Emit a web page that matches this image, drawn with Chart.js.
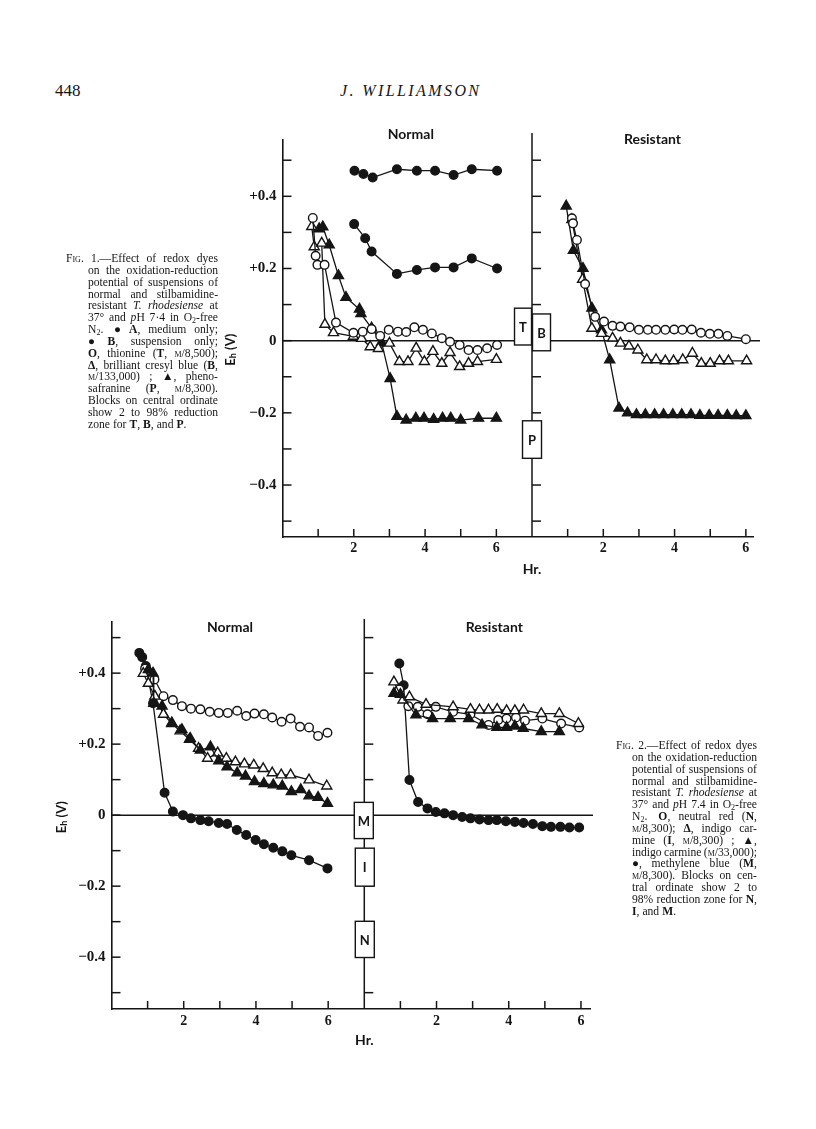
<!DOCTYPE html>
<html>
<head>
<meta charset="utf-8">
<script src="https://cdn.jsdelivr.net/npm/chart.js@4.4.0/dist/chart.umd.min.js"></script>
<style>
  body { margin: 0; background: #fff; }
  #page { position: relative; width: 816px; height: 1129px; overflow: hidden;
          font-family: "Liberation Serif", "DejaVu Serif", serif; color: #151515; }
  canvas { position: absolute; }
  .hdr { position: absolute; font-size: 17px; }
  .cap { position: absolute; font-size: 11.6px; line-height: 11.85px; }
  .cap .ln { display: flex; justify-content: space-between; white-space: nowrap; height: 11.85px; }
  .cap .ln.last { justify-content: flex-start; gap: 3px; }
  .sc { font-variant: small-caps; }
  .cap sub { font-size: 8px; vertical-align: baseline; position: relative; top: 2px; }
</style>
</head>
<body>
<div id="page">
  <div class="hdr" style="left:55px;top:81px;">448</div>
  <div class="hdr" style="left:340px;top:82px;font-style:italic;font-size:16px;letter-spacing:2.4px;">J. WILLIAMSON</div>

  <canvas id="fig1" width="580" height="490" style="left:200px;top:120px;"></canvas>
  <canvas id="fig2" width="590" height="460" style="left:30px;top:605px;"></canvas>

  <div class="cap" id="cap1" style="left:66px;top:253px;width:152px;"></div>
  <div class="cap" id="cap2" style="left:616px;top:740px;width:141px;"></div>
</div>

<script>
// ---- Fig. 1: [hours, Eh volts] ----
// normal trypanosomes
const f1NormA = [[2.02,0.471],[2.27,0.462],[2.53,0.452],[3.21,0.475],[3.77,0.471],[4.28,0.471],[4.8,0.459],[5.31,0.475],[6.02,0.471]];
const f1NormB = [[2.01,0.323],[2.32,0.284],[2.5,0.247],[3.21,0.185],[3.77,0.196],[4.28,0.203],[4.8,0.203],[5.31,0.228],[6.02,0.2]];
const f1NormT = [[0.85,0.34],[0.93,0.235],[0.98,0.21],[1.18,0.21],[1.5,0.05],[1.99,0.022],[2.25,0.025],[2.5,0.032],[2.74,0.013],[2.98,0.03],[3.24,0.025],[3.47,0.024],[3.7,0.037],[3.94,0.03],[4.19,0.02],[4.47,0.007],[4.7,-0.003],[4.97,-0.012],[5.22,-0.026],[5.47,-0.026],[5.74,-0.021],[6.02,-0.012]];
const f1NormCB = [[0.82,0.316],[0.89,0.26],[1.1,0.27],[1.19,0.045],[1.43,0.022],[1.99,0.012],[2.22,0.006],[2.46,-0.017],[2.69,-0.022],[3.0,-0.007],[3.28,-0.058],[3.52,-0.058],[3.75,-0.021],[3.98,-0.058],[4.22,-0.03],[4.47,-0.063],[4.7,-0.033],[4.97,-0.072],[5.22,-0.063],[5.47,-0.058],[6.0,-0.052]];
const f1NormP = [[1.03,0.31],[1.13,0.315],[1.31,0.265],[1.57,0.18],[1.78,0.12],[2.16,0.087],[2.2,0.075],[2.5,0.035],[2.78,-0.005],[3.02,-0.105],[3.21,-0.21],[3.47,-0.22],[3.74,-0.215],[3.97,-0.215],[4.24,-0.218],[4.49,-0.215],[4.72,-0.215],[5.0,-0.22],[5.5,-0.215],[6.0,-0.215]];
// stilbamidine-resistant
const f1ResT = [[1.12,0.339],[1.15,0.325],[1.26,0.279],[1.49,0.157],[1.77,0.066],[2.02,0.053],[2.26,0.041],[2.48,0.039],[2.74,0.037],[3.0,0.03],[3.25,0.03],[3.48,0.03],[3.74,0.03],[3.99,0.031],[4.22,0.03],[4.48,0.031],[4.74,0.022],[4.99,0.019],[5.23,0.019],[5.48,0.013],[6.0,0.004]];
const f1ResCB = [[1.12,0.335],[1.42,0.17],[1.68,0.034],[1.95,0.02],[2.26,0.007],[2.48,-0.007],[2.72,-0.015],[2.97,-0.026],[3.22,-0.053],[3.48,-0.053],[3.74,-0.056],[3.97,-0.056],[4.23,-0.053],[4.5,-0.035],[4.75,-0.063],[5.0,-0.063],[5.26,-0.056],[5.51,-0.056],[6.02,-0.056]];
const f1ResP = [[0.96,0.373],[1.16,0.25],[1.43,0.2],[1.68,0.09],[1.95,0.03],[2.18,-0.053],[2.44,-0.187],[2.68,-0.2],[2.93,-0.205],[3.18,-0.205],[3.44,-0.205],[3.69,-0.205],[3.95,-0.205],[4.2,-0.205],[4.46,-0.205],[4.71,-0.207],[4.97,-0.207],[5.22,-0.207],[5.48,-0.207],[5.73,-0.208],[6.0,-0.208]];
// 2-98 % reduction zones on the central ordinate
const f1BlockLabels = ['T', 'B', 'P'];
const f1BlockHigh = [0.09, 0.074, -0.222];
const f1BlockLow = [-0.012, -0.028, -0.326];

// ---- Fig. 2 ----
const f2NormN = [[0.93,0.413],[1.19,0.382],[1.44,0.335],[1.7,0.324],[1.95,0.307],[2.2,0.3],[2.46,0.298],[2.72,0.291],[2.97,0.288],[3.22,0.288],[3.48,0.294],[3.73,0.279],[3.96,0.286],[4.22,0.284],[4.45,0.275],[4.71,0.263],[4.96,0.272],[5.22,0.249],[5.47,0.247],[5.72,0.223],[5.98,0.232]];
const f2NormI = [[0.88,0.399],[1.02,0.371],[1.2,0.335],[1.44,0.284],[1.67,0.258],[1.9,0.237],[2.16,0.213],[2.41,0.188],[2.66,0.16],[2.94,0.175],[3.18,0.16],[3.43,0.15],[3.68,0.144],[3.94,0.141],[4.2,0.131],[4.45,0.119],[4.7,0.113],[4.96,0.113],[5.47,0.099],[5.96,0.082]];
const f2NormI33 = [[1.02,0.41],[1.15,0.4],[1.17,0.315],[1.4,0.307],[1.67,0.26],[1.95,0.241],[2.18,0.216],[2.46,0.183],[2.74,0.192],[2.97,0.153],[3.2,0.136],[3.48,0.119],[3.71,0.11],[3.96,0.094],[4.22,0.089],[4.48,0.085],[4.73,0.082],[4.98,0.066],[5.24,0.072],[5.47,0.054],[5.72,0.05],[5.98,0.033]];
const f2NormM = [[0.77,0.457],[0.85,0.445],[0.95,0.42],[1.15,0.315],[1.47,0.063],[1.7,0.01],[1.98,0.0],[2.2,-0.009],[2.46,-0.014],[2.69,-0.017],[2.97,-0.022],[3.2,-0.025],[3.47,-0.042],[3.73,-0.056],[3.99,-0.07],[4.22,-0.082],[4.48,-0.092],[4.73,-0.102],[4.98,-0.113],[5.47,-0.127],[5.98,-0.15]];
const f2ResN = [[0.97,0.354],[1.22,0.307],[1.48,0.305],[1.75,0.284],[1.98,0.305],[2.46,0.291],[2.94,0.284],[3.44,0.254],[3.71,0.268],[3.94,0.272],[4.2,0.275],[4.45,0.266],[4.93,0.272],[5.45,0.258],[5.95,0.247]];
const f2ResI = [[0.82,0.375],[1.07,0.324],[1.25,0.333],[1.71,0.312],[2.46,0.305],[2.94,0.298],[3.19,0.296],[3.44,0.296],[3.68,0.298],[3.94,0.294],[4.17,0.294],[4.41,0.296],[4.9,0.286],[5.4,0.286],[5.93,0.258]];
const f2ResI33 = [[0.82,0.343],[1.0,0.34],[1.43,0.282],[1.89,0.272],[2.38,0.272],[2.89,0.272],[3.26,0.254],[3.67,0.247],[3.94,0.247],[4.17,0.251],[4.4,0.244],[4.9,0.235],[5.4,0.235]];
const f2ResM = [[0.97,0.427],[1.09,0.366],[1.25,0.099],[1.49,0.037],[1.75,0.019],[1.98,0.009],[2.22,0.005],[2.46,0],[2.71,-0.005],[2.94,-0.009],[3.19,-0.012],[3.44,-0.014],[3.67,-0.014],[3.92,-0.017],[4.17,-0.019],[4.41,-0.022],[4.67,-0.025],[4.93,-0.031],[5.17,-0.033],[5.43,-0.033],[5.68,-0.035],[5.95,-0.035]];
const f2BlockLabels = ['M', 'I', 'N'];
const f2BlockHigh = [0.036, -0.093, -0.299];
const f2BlockLow = [-0.066, -0.2, -0.401];

// axes
const yTickVals = [-0.5, -0.4, -0.3, -0.2, -0.1, 0, 0.1, 0.2, 0.3, 0.4, 0.5];
const hourTicks = [1, 2, 3, 4, 5, 6];
const panelTitles = ['Normal', 'Resistant'];
const SPLIT = 7;   // resistant panel starts at 7 h on the shared axis

const INK = '#151515';
const xTickVals = hourTicks.concat(hourTicks.map(h => h + SPLIT));
const pts = (arr, off) => arr.map(([h, v]) => ({ x: h + off, y: v }));

function series(arr, off, style, fill) {
  const r = style === 'triangle' ? 5.8 : 4.3;
  return {
    data: pts(arr, off), showLine: true,
    borderColor: INK, borderWidth: 1.3,
    pointStyle: style, pointRadius: r, pointHoverRadius: r,
    pointBackgroundColor: fill ? INK : '#fff', pointBorderColor: INK, pointBorderWidth: 1.4
  };
}

function line(ctx, x1, y1, x2, y2) {
  ctx.beginPath(); ctx.moveTo(x1, y1); ctx.lineTo(x2, y2); ctx.stroke();
}

const decor = {
  id: 'decor',
  beforeDatasetsDraw(chart, args, o) {
    const { ctx, chartArea: a, scales: { x, y } } = chart;
    const y0 = y.getPixelForValue(0), xc = x.getPixelForValue(SPLIT);
    ctx.save();
    ctx.strokeStyle = INK; ctx.lineWidth = 1.5;
    line(ctx, a.left, y0, a.right + o.zeroExtra, y0);
    line(ctx, xc, a.bottom, xc, a.top - o.centralRise);
    yTickVals.forEach(v => {
      const py = y.getPixelForValue(v);
      line(ctx, a.left, py, a.left + 9, py);
      line(ctx, xc, py, xc + 9, py);
    });
    xTickVals.forEach(v => {
      const px = x.getPixelForValue(v);
      line(ctx, px, a.bottom, px, a.bottom - 8);
    });
    ctx.restore();
  },
  afterDatasetsDraw(chart, args, o) {
    const { ctx, chartArea: a, scales: { x, y } } = chart;
    const y0 = y.getPixelForValue(0), xc = x.getPixelForValue(SPLIT);
    ctx.save();
    ctx.strokeStyle = INK; ctx.fillStyle = INK; ctx.lineWidth = 1.4;
    ctx.textAlign = 'center'; ctx.textBaseline = 'middle';
    ctx.font = 'bold 13px Lato';
    o.blockLabels.forEach((lab, i) => {
      const top = y.getPixelForValue(o.blockHigh[i]);
      const bot = y.getPixelForValue(o.blockLow[i]);
      const left = xc + o.blockDx[i], w = o.blockW[i];
      ctx.fillStyle = '#fff';
      ctx.fillRect(left, top, w, bot - top);
      ctx.strokeRect(left, top, w, bot - top);
      ctx.fillStyle = INK;
      ctx.fillText(lab, left + w / 2, (top + bot) / 2 + 1);
    });
    ctx.font = 'bold 14px Lato';
    panelTitles.forEach((t, i) => {
      ctx.fillText(t, x.getPixelForValue(o.titleAt[i]), a.top + o.titleDy[i]);
    });
    ctx.fillText('Hr.', xc, a.bottom + o.hrDy);
    // E with subscript h, rotated
    ctx.translate(a.left - o.ehDx, y0 + o.ehDy);
    ctx.rotate(-Math.PI / 2);
    ctx.textAlign = 'left';
    ctx.font = 'bold 13px Lato';
    const wE = ctx.measureText('E').width, wV = ctx.measureText(' (V)').width;
    ctx.font = 'bold 9px Lato';
    const wh = ctx.measureText('h').width;
    const sx = -(wE + wh + wV) / 2;
    ctx.font = 'bold 13px Lato';
    ctx.fillText('E', sx, 0);
    ctx.font = 'bold 9px Lato';
    ctx.fillText('h', sx + wE, 3);
    ctx.font = 'bold 13px Lato';
    ctx.fillText(' (V)', sx + wE + wh, 0);
    ctx.restore();
  }
};

function makeFig(id, datasets, yMin, yMax, xMax, box, deco) {
  new Chart(document.getElementById(id), {
    type: 'scatter',
    data: { datasets },
    plugins: [decor],
    options: {
      responsive: false, animation: false, events: [],
      layout: { padding: { top: box.top, right: box.right, left: 0, bottom: 0 } },
      plugins: { legend: { display: false }, tooltip: { enabled: false }, decor: deco },
      scales: {
        x: {
          type: 'linear', min: 0, max: xMax,
          afterBuildTicks: s => { s.ticks = xTickVals.map(v => ({ value: v })); },
          afterFit: s => { s.height = box.xh; },
          grid: { display: false, drawTicks: false },
          border: { display: true, color: INK, width: 1.6 },
          ticks: {
            autoSkip: false, maxRotation: 0, padding: box.xpad, color: INK,
            font: { family: 'Liberation Serif', weight: 'bold', size: 14 },
            callback: v => { const h = v < SPLIT ? v : v - SPLIT; return h % 2 === 0 ? String(h) : ''; }
          }
        },
        y: {
          type: 'linear', min: yMin, max: yMax,
          afterBuildTicks: s => { s.ticks = yTickVals.map(v => ({ value: v })); },
          afterFit: s => { s.width = box.yw; },
          grid: { display: false, drawTicks: false },
          border: { display: true, color: INK, width: 1.6 },
          ticks: {
            padding: 6, color: INK,
            font: { family: 'Liberation Serif', weight: 'bold', size: 15 },
            callback: v => {
              const k = Math.round(v * 10);
              if (k % 2 !== 0) return '';
              if (k === 0) return '0';
              return (k > 0 ? '+' : '\u2212') + Math.abs(v).toFixed(1);
            }
          }
        }
      }
    }
  });
}

makeFig('fig1', [
  series(f1NormT, 0, 'circle', false),
  series(f1NormCB, 0, 'triangle', false),
  series(f1ResT, SPLIT, 'circle', false),
  series(f1ResCB, SPLIT, 'triangle', false),
  series(f1NormP, 0, 'triangle', true),
  series(f1ResP, SPLIT, 'triangle', true),
  series(f1NormA, 0, 'circle', true),
  series(f1NormB, 0, 'circle', true)
], -0.544, 0.556, 13.2,
  { top: 20, right: 27, yw: 82.5, xh: 73, xpad: 3 },
  { zeroExtra: 7, centralRise: 7,
    blockLabels: f1BlockLabels, blockHigh: f1BlockHigh, blockLow: f1BlockLow,
    blockDx: [-17.5, 0.5, -9.5], blockW: [17, 18, 19],
    titleAt: [3.6, 10.38], titleDy: [-6, -1], hrDy: 32, ehDx: 52, ehDy: 9 });

makeFig('fig2', [
  series(f2NormI33, 0, 'triangle', true),
  series(f2NormI, 0, 'triangle', false),
  series(f2NormN, 0, 'circle', false),
  series(f2NormM, 0, 'circle', true),
  series(f2ResI33, SPLIT, 'triangle', true),
  series(f2ResI, SPLIT, 'triangle', false),
  series(f2ResN, SPLIT, 'circle', false),
  series(f2ResM, SPLIT, 'circle', true)
], -0.546, 0.544, 13.25,
  { top: 17, right: 30, yw: 81.5, xh: 56, xpad: 4 },
  { zeroExtra: 3, centralRise: 3,
    blockLabels: f2BlockLabels, blockHigh: f2BlockHigh, blockLow: f2BlockLow,
    blockDx: [-10, -9, -9], blockW: [19, 19, 19],
    titleAt: [3.28, 10.6], titleDy: [5, 5], hrDy: 31, ehDx: 50, ehDy: 2 });

// captions, one justified line per row
const cap1 = [
  '<span class="sc">Fig.</span> 1.—Effect of redox dyes',
  'on the oxidation-reduction',
  'potential of suspensions of',
  'normal and stilbamidine-',
  'resistant <i>T.</i> <i>rhodesiense</i> at',
  '37° and <i>p</i>H 7·4 in O<sub>2</sub>-free',
  'N<sub>2</sub>. &nbsp;● <b>A</b>, medium only;',
  '● <b>B</b>, suspension only;',
  '<b>O</b>, thionine (<b>T</b>, <span class="sc">m</span>/8,500);',
  '<b>Δ</b>, brilliant cresyl blue (<b>B</b>,',
  '<span class="sc">m</span>/133,000) ; <b>▲</b>, pheno-',
  'safranine (<b>P</b>, <span class="sc">m</span>/8,300).',
  'Blocks on central ordinate',
  'show 2 to 98% reduction',
  'zone for <b>T</b>, <b>B</b>, and <b>P</b>.'
];
const cap2 = [
  '<span class="sc">Fig.</span> 2.—Effect of redox dyes',
  'on the oxidation-reduction',
  'potential of suspensions of',
  'normal and stilbamidine-',
  'resistant <i>T.</i> <i>rhodesiense</i> at',
  '37° and <i>p</i>H 7.4 in O<sub>2</sub>-free',
  'N<sub>2</sub>. &nbsp;<b>O</b>, neutral red (<b>N</b>,',
  '<span class="sc">m</span>/8,300); <b>Δ</b>, indigo car-',
  'mine (<b>I</b>, <span class="sc">m</span>/8,300) ; <b>▲</b>,',
  'indigo carmine (<span class="sc">m</span>/33,000);',
  '●, methylene blue (<b>M</b>,',
  '<span class="sc">m</span>/8,300). Blocks on cen-',
  'tral ordinate show 2 to',
  '98% reduction zone for <b>N</b>,',
  '<b>I</b>, and <b>M</b>.'
];
function fillCaption(id, lines, indent) {
  const el = document.getElementById(id);
  lines.forEach((txt, i) => {
    const d = document.createElement('div');
    d.className = 'ln' + (i === lines.length - 1 ? ' last' : '');
    if (i > 0) d.style.marginLeft = indent + 'px';
    // split into words, keeping tags (which may contain spaces) intact
    const words = txt.match(/(?:<[^>]*>|[^\s<])+/g);
    d.innerHTML = words.map(w => '<span>' + w + '</span>').join('');
    el.appendChild(d);
  });
}
fillCaption('cap1', cap1, 22);
fillCaption('cap2', cap2, 16);
</script>
</body>
</html>
